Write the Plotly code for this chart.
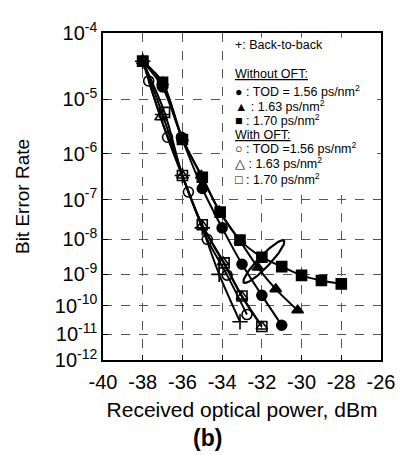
import numpy as np
import plotly.graph_objects as go

# ---------------- data ----------------
b2b_x = [-38, -37, -36, -35, -34.15, -33.1]
b2b_ber = [4e-5, 5.5e-6, 3.5e-7, 2e-8, 1e-9, 2.8e-11]

no156_x = [-38, -37, -36.05, -35, -34, -33, -32, -31]
no156_ber = [4e-5, 1.6e-5, 2.1e-6, 1.8e-7, 2e-8, 2e-9, 2.2e-10, 2.1e-11]

no163_x = [-38, -37, -36, -35.05, -34.15, -33.1, -32.2, -31.3, -30.2]
no163_ber = [4e-5, 1.9e-5, 2e-6, 3.5e-7, 5.3e-8, 9e-9, 1.6e-9, 3.5e-10, 7e-11]

no170_x = [-38, -37, -36, -35, -34.1, -33.1, -32, -31, -30, -29, -28]
no170_ber = [4e-5, 1.9e-5, 1.9e-6, 3.2e-7, 5e-8, 9.5e-9, 3.2e-9, 1.7e-9, 9.3e-10, 6.5e-10, 5.1e-10]

oft156_x = [-37.7, -36.75, -35.7, -34.75, -33.75, -32.75]
oft156_ber = [2e-5, 2.1e-6, 1.5e-7, 1e-8, 9.5e-10, 5e-11]

oft163_x = [-38, -37.1, -36, -35, -33.95, -33, -32]
oft163_ber = [4e-5, 4.9e-6, 3.5e-7, 2.3e-8, 2.3e-9, 2e-10, 1.9e-11]

oft170_x = [-38, -36.9, -36, -35, -33.9, -33, -32]
oft170_ber = [4e-5, 6e-6, 3.5e-7, 2.4e-8, 2.2e-9, 2.1e-10, 1.9e-11]

decades = [-4, -5, -6, -7, -8, -9, -10, -11, -12]
x_ticks = [-40, -38, -36, -34, -32, -30, -28, -26]


def q(ber):
    """BER axis transform (erfc-like scale): log10(-log10(BER))."""
    return np.log10(-np.log10(np.asarray(ber, dtype=float)))


FONT = "Liberation Sans, Arial, Helvetica, sans-serif"
fig = go.Figure()

series = [
    (b2b_x, b2b_ber, "cross-thin-open", "Back-to-back"),
    (no156_x, no156_ber, "circle", "w/o OFT 1.56"),
    (no163_x, no163_ber, "triangle-up", "w/o OFT 1.63"),
    (no170_x, no170_ber, "square", "w/o OFT 1.70"),
    (oft156_x, oft156_ber, "circle-open", "OFT 1.56"),
    (oft163_x, oft163_ber, "triangle-up-open", "OFT 1.63"),
    (oft170_x, oft170_ber, "square-open", "OFT 1.70"),
]
for xs, bers, sym, name in series:
    fig.add_trace(go.Scatter(
        x=xs, y=q(bers), mode="lines+markers", name=name,
        line=dict(color="black", width=2, shape="spline", smoothing=0.8),
        marker=dict(symbol=sym, size=10 if "cross" not in sym else 11,
                    color="black", line=dict(color="black", width=1.6)),
        showlegend=False,
    ))

# ellipse annotation (pixel-sized, converted to axis units)
t = np.linspace(0, 2 * np.pi, 120)
a_px, b_px, ang = 30.0, 6.0, np.deg2rad(47)
px = a_px * np.cos(t) * np.cos(ang) - b_px * np.sin(t) * np.sin(ang)
py = a_px * np.cos(t) * np.sin(ang) + b_px * np.sin(t) * np.cos(ang)
cx, cy = -31.9, 0.9356
fig.add_trace(go.Scatter(x=cx + px / 20.29, y=cy - py / 715.0, mode="lines",
                         line=dict(color="black", width=2.2), showlegend=False,
                         hoverinfo="skip"))

# white legend panel (covers the grid behind the key, not the frame)
fig.add_shape(type="rect", xref="paper", yref="paper", x0=0.454, x1=0.986,
              y0=0.512, y1=0.986, fillcolor="white", line=dict(width=0),
              layer="above")

leg = [
    (0.963, "+: Back-to-back"),
    (0.874, "<u>Without OFT:</u>"),
    (0.823, "● : TOD = 1.56 ps/nm<sup>2</sup>"),
    (0.777, "▲ : 1.63 ps/nm<sup>2</sup>"),
    (0.733, "■ : 1.70 ps/nm<sup>2</sup>"),
    (0.689, "<u>With OFT:</u>"),
    (0.648, "○ : TOD =1.56 ps/nm<sup>2</sup>"),
    (0.602, "△ : 1.63 ps/nm<sup>2</sup>"),
    (0.555, "□ : 1.70 ps/nm<sup>2</sup>"),
]
for yy, txt in leg:
    fig.add_annotation(x=0.466, y=yy, xref="paper", yref="paper", text=txt,
                       showarrow=False, xanchor="left", yanchor="middle",
                       font=dict(family=FONT, size=12.5, color="black"))

fig.add_annotation(x=0.377, y=-0.240, xref="paper", yref="paper", text="<b>(b)</b>",
                   showarrow=False, xanchor="center", yanchor="middle",
                   font=dict(family=FONT, size=23, color="black"))

grid = dict(showgrid=True, gridcolor="#555", gridwidth=1.3, griddash="dash",
            showline=True, linecolor="black", linewidth=1.5, mirror=True,
            ticks="inside", ticklen=5, tickcolor="black", zeroline=False,
            ticklabeloverflow="allow")

# page body has an 8px margin, so the figure is drawn 8px smaller / shifted
fig.update_layout(
    width=398, height=447,
    margin=dict(l=95, r=19, t=11, b=95),
    paper_bgcolor="white", plot_bgcolor="white",
    font=dict(family=FONT, color="black"),
    xaxis=dict(range=[-40, -26], tickvals=x_ticks,
               ticktext=[str(v) for v in x_ticks],
               tickfont=dict(size=20), ticklabelstandoff=3,
               title=dict(text="Received optical power, dBm", font=dict(size=21),
                          standoff=11),
               **grid),
    yaxis=dict(range=[float(q(1e-12)), float(q(1e-4))],
               tickvals=[float(q(10.0 ** d)) for d in decades],
               ticktext=[f"10<sup>{d}</sup>" for d in decades],
               tickfont=dict(size=20),
               title=dict(text="Bit Error Rate", font=dict(size=19), standoff=20),
               **grid),
)

fig.write_html("out.html")
